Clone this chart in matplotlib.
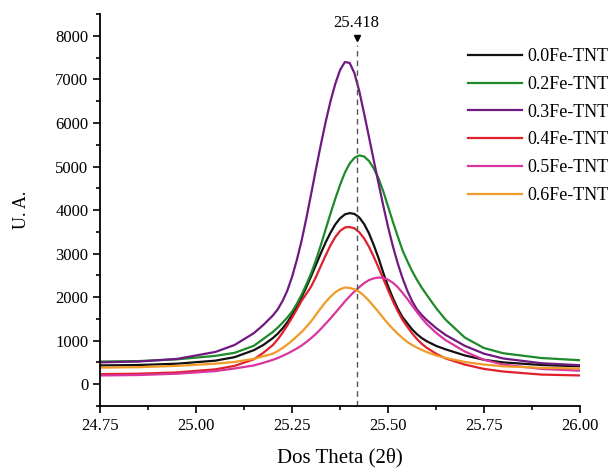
import numpy as np
import matplotlib
matplotlib.use("Agg")
import matplotlib.pyplot as plt
from matplotlib.ticker import MultipleLocator, FormatStrFormatter

plt.rcParams['font.family'] = ['Liberation Serif', 'DejaVu Serif']

# 2theta positions (denser around the peak)
two_theta = [24.75, 24.85, 24.95, 25.05, 25.10, 25.15, 25.175,
             25.20, 25.2125, 25.225, 25.2375, 25.25, 25.2625, 25.275, 25.2875,
             25.30, 25.3125, 25.325, 25.3375, 25.35, 25.3625, 25.375, 25.3875,
             25.40, 25.4125, 25.425, 25.4375, 25.45, 25.4625, 25.475, 25.4875,
             25.50, 25.5125, 25.525, 25.5375, 25.55, 25.5625, 25.575, 25.5875,
             25.60, 25.625, 25.65, 25.70, 25.75, 25.80, 25.90, 26.00]

fe00 = [430, 440, 470, 540, 620, 780, 900,
        1060, 1160, 1280, 1420, 1590, 1780, 2000, 2240,
        2490, 2750, 3010, 3260, 3480, 3670, 3810, 3900,
        3930, 3910, 3830, 3680, 3470, 3200, 2900, 2560,
        2250, 1980, 1740, 1540, 1400, 1260, 1150, 1060,
        990, 880, 800, 660, 560, 500, 440, 410]
fe02 = [520, 530, 570, 650, 720, 880, 1040,
        1200, 1300, 1410, 1530, 1670, 1850, 2060, 2300,
        2560, 2860, 3200, 3560, 3920, 4260, 4580, 4860,
        5070, 5200, 5255, 5230, 5130, 4960, 4730, 4430,
        4080, 3730, 3400, 3080, 2830, 2600, 2400, 2220,
        2060, 1750, 1480, 1070, 830, 710, 600, 550]
fe03 = [500, 520, 580, 740, 900, 1170, 1360,
        1580, 1720, 1910, 2150, 2470, 2860, 3310, 3830,
        4390, 4960, 5510, 6030, 6500, 6900, 7220, 7400,
        7380, 7140, 6730, 6220, 5690, 5150, 4620, 4100,
        3610, 3170, 2780, 2440, 2150, 1910, 1720, 1590,
        1480, 1290, 1130, 880, 700, 590, 480, 435]
fe04 = [230, 240, 270, 340, 420, 570, 720,
        900, 1030, 1180, 1350, 1530, 1720, 1920, 2080,
        2250, 2470, 2720, 2960, 3190, 3380, 3520, 3600,
        3610, 3580, 3490, 3350, 3160, 2930, 2680, 2420,
        2160, 1910, 1680, 1480, 1320, 1170, 1040, 930,
        840, 700, 590, 450, 350, 290, 220, 200]
fe05 = [200, 210, 240, 300, 360, 430, 490,
        560, 600, 650, 700, 760, 820, 890, 970,
        1060, 1160, 1270, 1390, 1510, 1640, 1770, 1900,
        2020, 2130, 2230, 2320, 2390, 2430, 2450, 2440,
        2400, 2330, 2230, 2100, 1960, 1810, 1660, 1520,
        1390, 1180, 1010, 750, 560, 450, 350, 310]
fe06 = [380, 390, 420, 470, 510, 580, 640,
        700, 760, 830, 910, 1000, 1100, 1200, 1320,
        1450, 1600, 1750, 1890, 2010, 2110, 2180, 2220,
        2210, 2180, 2120, 2030, 1920, 1790, 1660, 1520,
        1390, 1270, 1160, 1060, 970, 900, 840, 790,
        740, 660, 600, 510, 450, 410, 375, 360]

labels = ['0.0Fe-TNT', '0.2Fe-TNT', '0.3Fe-TNT', '0.4Fe-TNT', '0.5Fe-TNT', '0.6Fe-TNT']
colors = ['#111111', '#1f8a2a', '#6e1a80', '#e0202c', '#d8359e', '#f09a28']
peak_pos = 25.418

fig = plt.figure(figsize=(6.15, 4.72), dpi=100)
ax = fig.add_axes([0.163, 0.14, 0.78, 0.83])

for y, lab, c in zip([fe00, fe02, fe03, fe04, fe05, fe06], labels, colors):
    ax.plot(two_theta, y, color=c, lw=1.6, label=lab, solid_joinstyle='round')

ax.plot([peak_pos, peak_pos], [-500, 7800], ls=(0, (4, 3)), color='#555555', lw=1)
ax.plot([peak_pos], [7960], marker='v', color='k', ms=5)
ax.text(peak_pos, 8120, '25.418', ha='center', va='bottom', fontsize=12)

ax.set_xlim(24.75, 26.00)
ax.set_ylim(-500, 8500)
ax.xaxis.set_major_locator(MultipleLocator(0.25))
ax.xaxis.set_minor_locator(MultipleLocator(0.125))
ax.xaxis.set_major_formatter(FormatStrFormatter('%.2f'))
ax.set_yticks(np.arange(0, 8001, 1000))
ax.yaxis.set_minor_locator(MultipleLocator(500))
ax.tick_params(which='both', direction='out', width=1.2, labelsize=12)
ax.tick_params(which='major', length=5)
ax.tick_params(which='minor', length=3)
for s in ['top', 'right']:
    ax.spines[s].set_visible(False)
for s in ['left', 'bottom']:
    ax.spines[s].set_linewidth(1.3)

ax.set_xlabel('Dos Theta (2θ)', fontsize=15, labelpad=10)
ax.set_ylabel('U. A.', fontsize=13, labelpad=18)

ax.legend(loc='upper left', bbox_to_anchor=(468 / 615, 1 - 48 / 472),
          bbox_transform=fig.transFigure, frameon=False, fontsize=13,
          handlelength=3.0, handletextpad=0.3, labelspacing=0.6,
          borderpad=0, borderaxespad=0)

fig.savefig('out.png', dpi=100)
